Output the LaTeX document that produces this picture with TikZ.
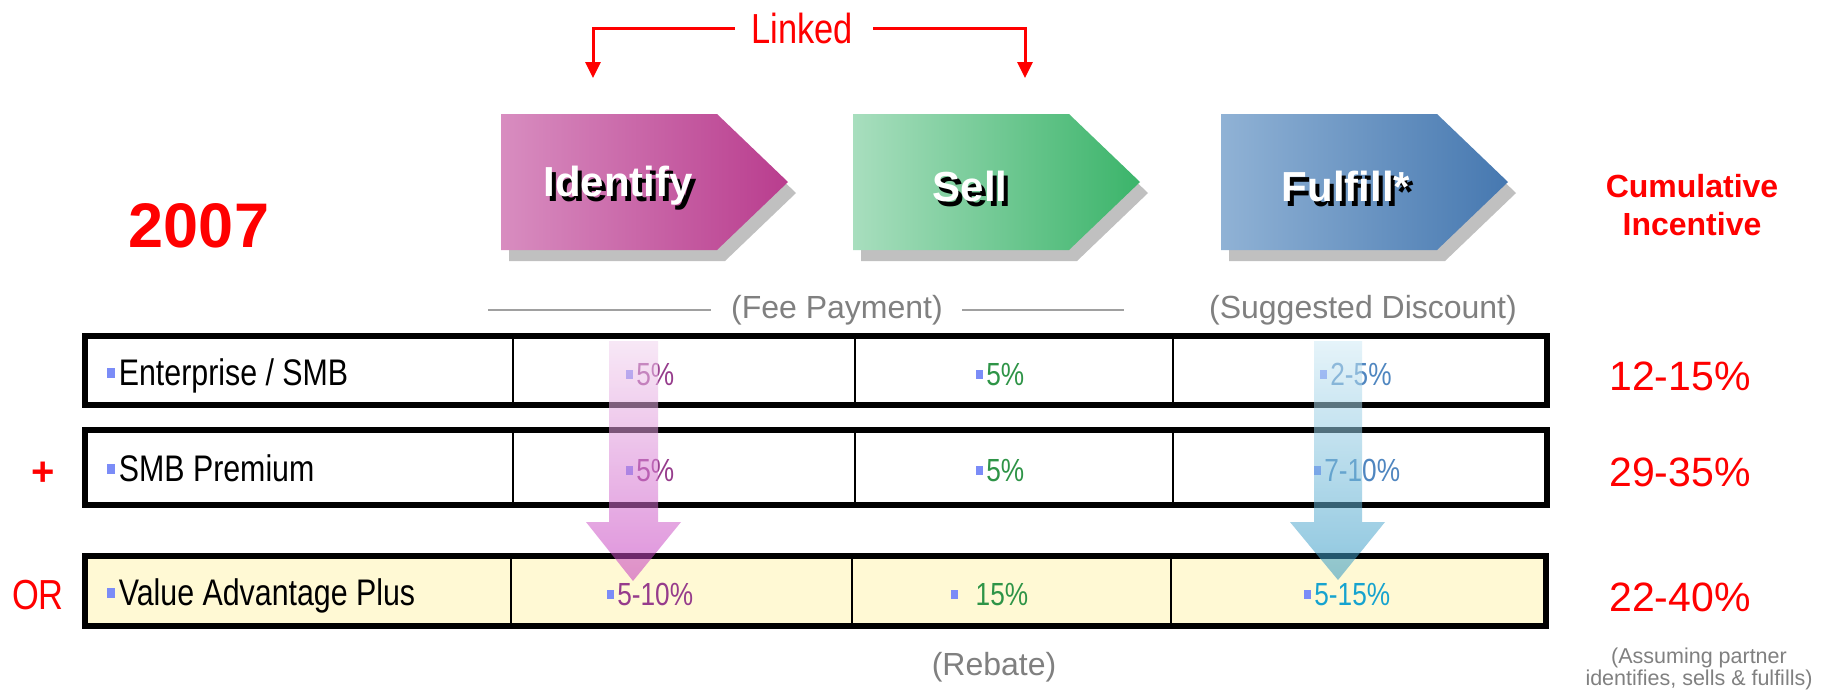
\documentclass[tikz,border=0pt]{standalone}
\usepackage{fontspec}
\setmainfont{Liberation Sans}
\newfontfamily\narrowfont{Liberation Sans}[FakeStretch=0.82]
\usetikzlibrary{arrows.meta}
\definecolor{redz}{HTML}{FF0000}
\definecolor{graytxt}{HTML}{808080}
\definecolor{grayln}{HTML}{A0A0A0}
\definecolor{chevshadow}{HTML}{C0C0C0}
\definecolor{idL}{HTML}{D88DC0}
\definecolor{idR}{HTML}{B93D8E}
\definecolor{seL}{HTML}{A8DEBE}
\definecolor{seR}{HTML}{3BB46A}
\definecolor{fuL}{HTML}{90B2D5}
\definecolor{fuR}{HTML}{4678B0}
\definecolor{rowyellow}{HTML}{FFF9D4}
\definecolor{bulblue}{HTML}{7B8CF7}
\definecolor{pcoltwo}{HTML}{963C8C}
\definecolor{pcolthree}{HTML}{2E9447}
\definecolor{pcolfour}{HTML}{4F86C0}
\definecolor{pcolfourb}{HTML}{16A3CF}
\definecolor{pinktop}{HTML}{F2D5EF}
\definecolor{pinkbot}{HTML}{C438BE}
\definecolor{bluetop}{HTML}{D1EBF6}
\definecolor{bluebot}{HTML}{2F97C4}
\newcommand\bul{{\color{bulblue}\rule[0.2em]{0.21em}{0.26em}}\hspace{0.1em}}
\begin{document}
\begin{tikzpicture}[x=0.5pt,y=-0.5pt,
  chevtxt/.style={font=\bfseries\fontsize{21pt}{25pt}\selectfont, inner sep=0pt},
  rowlab/.style={anchor=base west, inner sep=0pt, font=\narrowfont\fontsize{18.5pt}{22pt}\selectfont},
  pct/.style={anchor=base west, inner sep=0pt, font=\narrowfont\fontsize{16pt}{19pt}\selectfont},
  redval/.style={anchor=base, inner sep=0pt, text=redz, font=\fontsize{20.5pt}{24pt}\selectfont},
  graylab/.style={text=graytxt, inner sep=0pt, font=\fontsize{16pt}{19pt}\selectfont},
  rowbox/.style={draw=black, line width=3pt},
  divider/.style={draw=black, line width=1pt},
  grayline/.style={draw=grayln, line width=1pt},
  linkarrow/.style={draw=redz, line width=1.5pt, -{Triangle[width=7.5pt,length=8pt]}},
  bigarrow/.style={fill opacity=0.55},
]
\useasboundingbox (0,0) rectangle (1822,698);
\fill[white] (0,0) rectangle (1822,698);

% Linked
\node[font=\narrowfont\fontsize{21pt}{25pt}\selectfont, text=redz, inner sep=0pt] (linked) at (802,28) {Linked};
\coordinate (lkL) at (593,78);
\coordinate (lkR) at (1025,78);
\draw[linkarrow] ([xshift=-8pt]linked.west) -| (lkL);
\draw[linkarrow] ([xshift=10pt]linked.east) -| (lkR);

% chevrons shadows
\fill[chevshadow] (509,125) -- (725,125) -- (796,193) -- (725,261) -- (509,261) -- cycle;
\fill[chevshadow] (861,125) -- (1077,125) -- (1148,193) -- (1077,261) -- (861,261) -- cycle;
\fill[chevshadow] (1229,125) -- (1445,125) -- (1516,193) -- (1445,261) -- (1229,261) -- cycle;
% chevrons
\shade[left color=idL, right color=idR] (501,114) -- (717,114) -- (788,182) -- (717,250) -- (501,250) -- cycle;
\shade[left color=seL, right color=seR] (853,114) -- (1069,114) -- (1140,182) -- (1069,250) -- (853,250) -- cycle;
\shade[left color=fuL, right color=fuR] (1221,114) -- (1437,114) -- (1508,182) -- (1437,250) -- (1221,250) -- cycle;

\node[chevtxt, text=black] (idsh) at (622,191) {Identify};
\node[chevtxt, text=white] (idt) at (618,186) {Identify};
\node[chevtxt, text=black] (sesh) at (974,191) {Sell};
\node[chevtxt, text=white] (set) at (970,186) {Sell};
\node[chevtxt, text=black] (fush) at (1350,191) {Fulfill*};
\node[chevtxt, text=white] (fut) at (1346,186) {Fulfill*};

% year and heading
\node[font=\bfseries\fontsize{31.5pt}{36pt}\selectfont, text=redz, inner sep=0pt] (yr) at (199,226) {2007};
\node[font=\bfseries\fontsize{16pt}{19pt}\selectfont, text=redz, align=center, inner sep=0pt] (cum) at (1692,205) {Cumulative\\Incentive};

% gray labels
\node[graylab] (fee) at (837,310) {(Fee Payment)};
\draw[grayline] (488,310) -- (711,310);
\draw[grayline] (962,310) -- (1124,310);
\node[graylab] (sugg) at (1363,310) {(Suggested Discount)};
\node[graylab] (reb) at (994,667) {(Rebate)};
\node[graylab, font=\fontsize{10.75pt}{11pt}\selectfont, align=center] (assume) at (1699,669) {(Assuming partner\\identifies, sells \& fulfills)};

% table rows
\draw[rowbox] (84.5,336) rectangle (1547,405);
\draw[divider] (513,336) -- (513,405);
\draw[divider] (855,336) -- (855,405);
\draw[divider] (1173,336) -- (1173,405);

\draw[rowbox] (84.5,430) rectangle (1547,504.5);
\draw[divider] (513,430) -- (513,504.5);
\draw[divider] (855,430) -- (855,504.5);
\draw[divider] (1173,430) -- (1173,504.5);

\filldraw[fill=rowyellow, rowbox] (84.5,555.5) rectangle (1545.5,625.5);
\draw[divider] (511,555.5) -- (511,625.5);
\draw[divider] (852,555.5) -- (852,625.5);
\draw[divider] (1171,555.5) -- (1171,625.5);

% row labels
\node[rowlab] (l1) at (107,385) {\bul Enterprise / SMB};
\node[rowlab] (l2) at (107,481) {\bul SMB Premium};
\node[rowlab] (l3) at (107,605) {\bul Value Advantage Plus};

% percentages
\node[pct, text=pcoltwo] (p12) at (626,385) {\bul 5\%};
\node[pct, text=pcolthree] (p13) at (976,385) {\bul 5\%};
\node[pct, text=pcolfour] (p14) at (1320,385) {\bul 2-5\%};
\node[pct, text=pcoltwo] (p22) at (626,481) {\bul 5\%};
\node[pct, text=pcolthree] (p23) at (976,481) {\bul 5\%};
\node[pct, text=pcolfour] (p24) at (1314,481) {\bul 7-10\%};
\node[pct, text=pcoltwo] (p32) at (607,605) {\bul 5-10\%};
\node[pct, text=pcolthree] (p33) at (951,605) {\bul\hspace{0.45em}15\%};
\node[pct, text=pcolfourb] (p34) at (1304,605) {\bul 5-15\%};

% side labels
\node[redval] (r1) at (1680,390) {12-15\%};
\node[redval] (r2) at (1680,486) {29-35\%};
\node[redval] (r3) at (1680,611) {22-40\%};
\node[font=\bfseries\fontsize{20pt}{24pt}\selectfont, text=redz, inner sep=0pt] (plus) at (43,474) {+};
\node[font=\narrowfont\fontsize{21pt}{25pt}\selectfont, text=redz, anchor=base, inner sep=0pt] (orl) at (38,609) {OR};

% big translucent arrows
\shade[bigarrow, top color=pinktop, bottom color=pinkbot] (609,341) -- (658,341) -- (658,522) -- (681,522) -- (633,581) -- (586,522) -- (609,522) -- cycle;
\shade[bigarrow, top color=bluetop, bottom color=bluebot] (1314,341) -- (1362,341) -- (1362,522) -- (1385,522) -- (1338,580) -- (1290,522) -- (1314,522) -- cycle;
\end{tikzpicture}
\end{document}
